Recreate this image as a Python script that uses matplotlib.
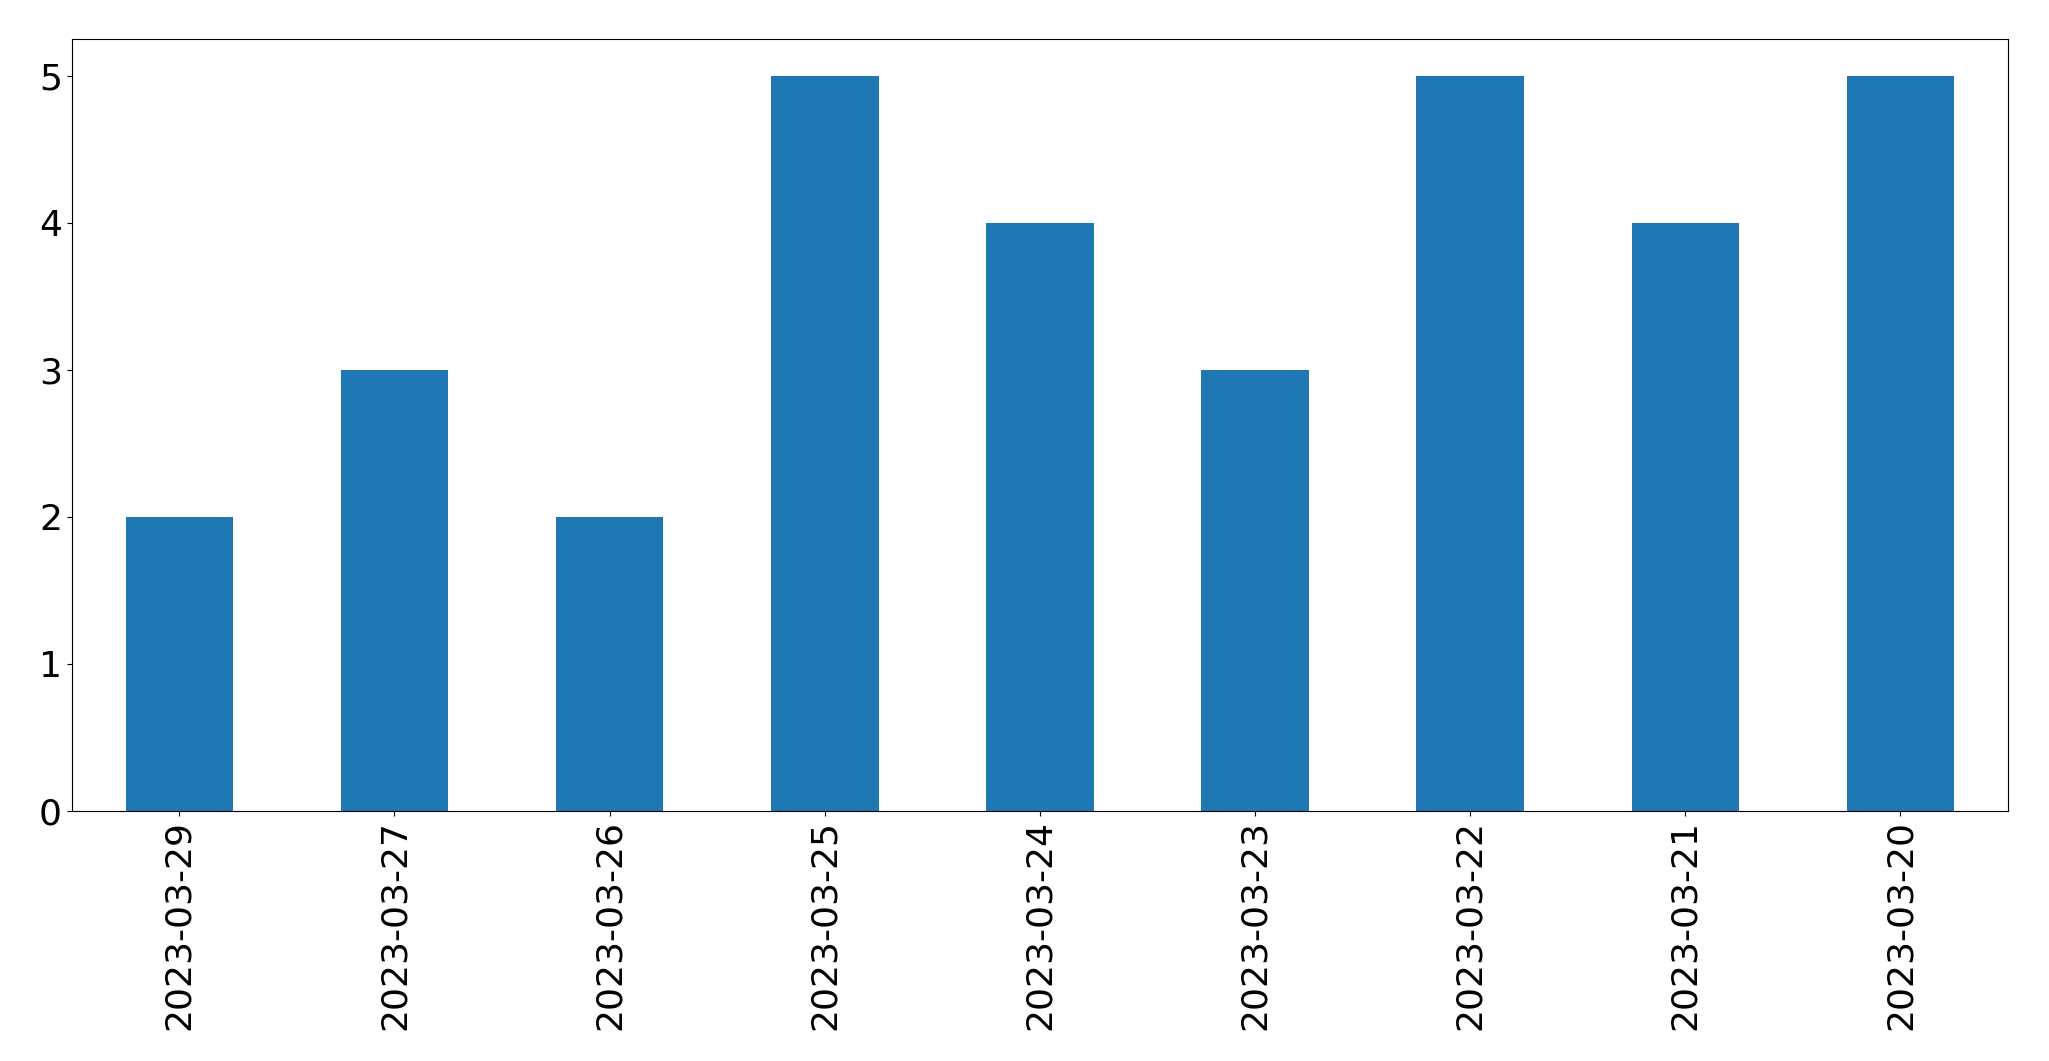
import matplotlib
matplotlib.use("Agg")
import matplotlib.pyplot as plt
import numpy as np

dates = ["2023-03-29", "2023-03-27", "2023-03-26", "2023-03-25", "2023-03-24",
         "2023-03-23", "2023-03-22", "2023-03-21", "2023-03-20"]
counts = [2, 3, 2, 5, 4, 3, 5, 4, 5]

fig = plt.figure(figsize=(20.49, 10.61), dpi=100)
ax = fig.add_axes([0.035, 0.236, 0.945, 0.727])
x = np.arange(len(dates))
ax.bar(x, counts, width=0.5, color="#1f77b4")
ax.set_xlim(-0.5, len(dates) - 0.5)
ax.set_xticks(x)
ax.set_xticklabels(dates, rotation=90)
ax.tick_params(labelsize=26)
ax.margins(y=0.05)
fig.savefig("out.png", dpi=100)
